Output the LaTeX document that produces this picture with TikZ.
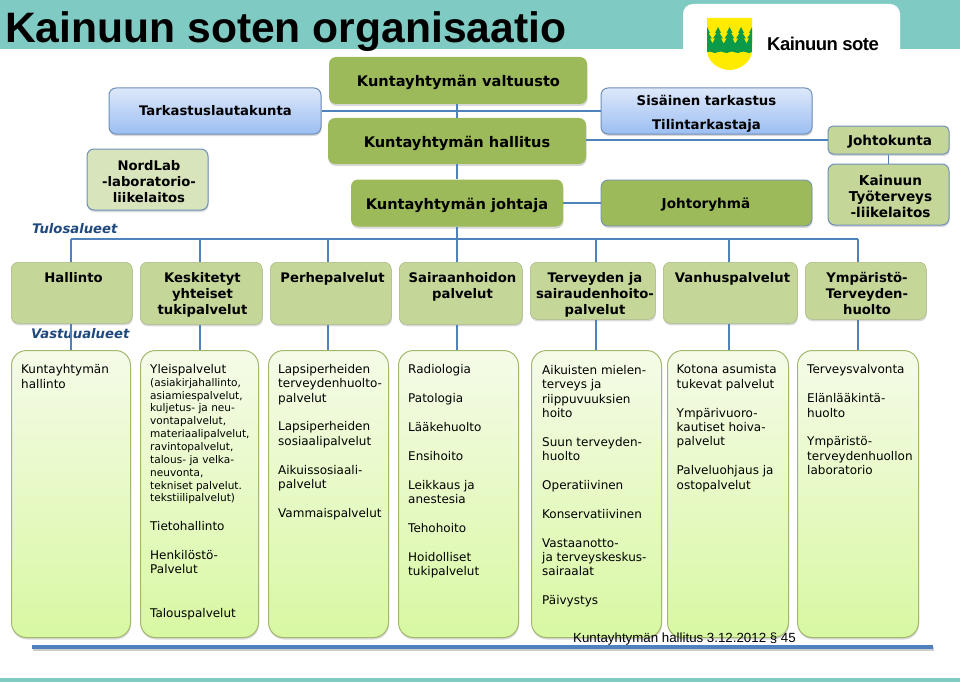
\documentclass[tikz,border=0pt]{standalone}
\usepackage{fontspec}
\setmainfont{DejaVu Sans}
\newfontfamily\arialfont{Liberation Sans}
\newfontfamily\sotefont[LetterSpace=-3.0]{Liberation Sans}
\usetikzlibrary{shadows}
\definecolor{tealbar}{HTML}{7FCBC4}
\definecolor{linkblue}{HTML}{4F81BD}
\definecolor{darkgreen}{HTML}{9DBA5A}
\definecolor{midgreen}{HTML}{C5D699}
\definecolor{palegreen}{HTML}{D8E4BC}
\definecolor{edgegreen}{HTML}{A3B86C}
\definecolor{edgeblue}{HTML}{6F8FB8}
\definecolor{labelblue}{HTML}{1F497D}
\definecolor{bluetop}{HTML}{DDE8FA}
\definecolor{bluebottom}{HTML}{9CBEF2}
\definecolor{coltop}{HTML}{F5FBE8}
\definecolor{colbottom}{HTML}{D8F8A2}
\definecolor{shieldgreen}{HTML}{0A9A4A}
\definecolor{shieldyellow}{HTML}{FFEB00}
\tikzset{softshadow/.style={drop shadow={shadow xshift=.5pt,shadow yshift=-2pt,opacity=.3}},
  box/.style={rounded corners=7pt,inner sep=0pt,softshadow},
  dark/.style={box,fill=darkgreen},
  bluebox/.style={box,draw=edgeblue,line width=1pt,top color=bluetop,bottom color=bluebottom},
  palebox/.style={box,draw=edgeblue,line width=1pt,fill=palegreen},
  midbox/.style={palebox,fill=midgreen},
  mid/.style={box,anchor=north west,draw=midgreen!85!black,line width=.5pt,fill=midgreen},
  col/.style={rounded corners=15pt,anchor=north west,minimum height=287pt,draw=edgegreen,line width=1pt,top color=coltop,bottom color=colbottom,softshadow},
  head/.style={align=center,inner sep=0pt,font=\fontsize{13.2}{16}\selectfont\bfseries},
  headbig/.style={head,font=\fontsize{14.6}{16}\selectfont\bfseries},
  txt/.style={anchor=north west,align=left,inner sep=0pt,font=\fontsize{12}{14.4}\selectfont},
  small/.style={txt,font=\fontsize{10.55}{12.85}\selectfont},
  area/.style={anchor=west,inner sep=0pt,text=labelblue,font=\fontsize{13.2}{15}\selectfont\bfseries\itshape},
  link/.style={draw=linkblue,line width=1.2pt}}
\begin{document}
\begin{tikzpicture}[x=1pt,y=-1pt]
  \useasboundingbox (0,0) rectangle (960,682);
  \fill[tealbar] (0,0) rectangle (960,49);
  \fill[tealbar] (0,678) rectangle (960,682);
  \fill[white,rounded corners=10pt] (683,75) -- (683,4) -- (900,4) -- (900,75) -- cycle;
  % shield
  \begin{scope}
    \clip (707,18) -- (752,18) -- (752,50) .. controls (752,62) and (740,70) .. (729.5,70) .. controls (719,70) and (707,62) .. (707,50) -- cycle;
    \fill[shieldyellow] (700,15) rectangle (760,75);
    \foreach \x in {707,718,729.5,741,752}
      \fill[shieldgreen] (\x,27) -- (\x+3,33) -- (\x+1.5,33) -- (\x+5,38.5) -- (\x+3,38.5) -- (\x+5.8,44) -- (\x-5.8,44) -- (\x-3,38.5) -- (\x-5,38.5) -- (\x-1.5,33) -- (\x-3,33) -- cycle;
    \fill[shieldgreen] (707,43) -- (752,43) -- (752,52) .. controls (748,55) and (745,50) .. (741,52) .. controls (737,55) and (733,50) .. (729.5,52) .. controls (726,55) and (722,50) .. (718,52) .. controls (714,55) and (711,50) .. (707,52) -- cycle;
  \end{scope}
  \node[anchor=west,inner sep=0pt,font=\sotefont\fontsize{18.5}{20}\selectfont\bfseries] (sote) at (767,44) {Kainuun sote};
  \node[anchor=west,inner sep=0pt,font=\arialfont\fontsize{42.6}{46}\selectfont\bfseries] (title) at (5,32) {Kainuun soten organisaatio};

  % upper part
  \node[bluebox,minimum width=212pt,minimum height=46pt] (tarkastus) at (215,111) {};
  \node[palebox,minimum width=121pt,minimum height=61pt] (nordlab) at (147.5,179.5) {};
  \node[dark,minimum width=258pt,minimum height=47pt] (valtuusto) at (458,80.5) {};
  \node[dark,minimum width=258pt,minimum height=46pt] (hallitus) at (457,141) {};
  \node[dark,minimum width=212pt,minimum height=47pt] (johtaja) at (457,203) {};
  \node[bluebox,minimum width=211pt,minimum height=46pt] (sisainen) at (706.5,111) {};
  \node[dark,draw=edgeblue,line width=.8pt,minimum width=211pt,minimum height=46pt] (johtoryhma) at (706.5,203) {};
  \node[midbox,minimum width=121pt,minimum height=28pt,rounded corners=5pt] (johtokunta) at (888.5,140) {};
  \node[midbox,minimum width=121pt,minimum height=61pt] (tyoterveys) at (888.5,194.5) {};
  \node[head] (tarkastust) at (215.5,111) {Tarkastuslautakunta};
  \node[head] (nordlabt) at (149,181.5) {NordLab\\-laboratorio-\\liikelaitos};
  \node[headbig] (valtuustot) at (458.5,82.5) {Kuntayhtymän valtuusto};
  \node[headbig] (hallitust) at (457,143) {Kuntayhtymän hallitus};
  \node[headbig] (johtajat) at (457,205) {Kuntayhtymän johtaja};
  \node[head,font=\fontsize{13.3}{24}\selectfont\bfseries] (sisainent) at (706.5,114) {Sisäinen tarkastus\\Tilintarkastaja};
  \node[head,font=\fontsize{13.6}{16}\selectfont\bfseries] (johtoryhmat) at (706,205) {Johtoryhmä};
  \node[head,font=\fontsize{13.6}{16}\selectfont\bfseries] (johtokuntat) at (890,142) {Johtokunta};
  \node[head,font=\fontsize{13.6}{16}\selectfont\bfseries] (tyoterveyst) at (890.5,196.5) {Kainuun\\Työterveys\\-liikelaitos};
  \node[area] (tulos) at (32,228.5) {Tulosalueet};
  \node[area] (vastuu) at (31,333.5) {Vastuualueet};

  % second row
  \node[mid,minimum width=121pt,minimum height=61pt] (hallinto) at (11,262) {};
  \node[mid,minimum width=122pt,minimum height=62pt] (keskitetyt) at (140,262) {};
  \node[mid,minimum width=121pt,minimum height=62pt] (perhe) at (270,262) {};
  \node[mid,minimum width=123pt,minimum height=62pt] (sairaan) at (399,262) {};
  \node[mid,minimum width=125pt,minimum height=57pt] (terveyden) at (530,262) {};
  \node[mid,minimum width=134pt,minimum height=61pt] (vanhus) at (663,262) {};
  \node[mid,minimum width=121pt,minimum height=57pt] (ympar) at (805,262) {};
  \node[head,anchor=north] (hallintot) at (73.5,272) {Hallinto};
  \node[head,anchor=north] (keskitetytt) at (202.5,272) {Keskitetyt\\yhteiset\\tukipalvelut};
  \node[head,anchor=north] (perhet) at (332.5,272) {Perhepalvelut};
  \node[head,anchor=north] (sairaant) at (462.5,272) {Sairaanhoidon\\palvelut};
  \node[head,anchor=north] (tervt) at (595,272) {Terveyden ja\\sairaudenhoito-\\palvelut};
  \node[head,anchor=north] (vanhust) at (732.5,272) {Vanhuspalvelut};
  \node[head,anchor=north] (ympart) at (867,272) {Ympäristö-\\Terveyden-\\huolto};

  % third row
  \node[col,minimum width=119pt] (c1) at (11,350) {};
  \node[col,minimum width=118pt] (c2) at (140,350) {};
  \node[col,minimum width=120pt] (c3) at (268,350) {};
  \node[col,minimum width=120pt] (c4) at (398,350) {};
  \node[col,minimum width=130pt] (c5) at (531,350) {};
  \node[col,minimum width=121pt] (c6) at (667,350) {};
  \node[col,minimum width=121pt] (c7) at (797,350) {};
  \node[txt] (t1) at (21,364.5) {Kuntayhtymän\\hallinto};
  \node[txt] (t2a) at (150,364.5) {Yleispalvelut};
  \node[small] (t2b) at (150,378) {(asiakirjahallinto,\\asiamiespalvelut,\\kuljetus- ja neu-\\vontapalvelut,\\materiaalipalvelut,\\ravintopalvelut,\\talous- ja velka-\\neuvonta,\\tekniset palvelut.\\tekstiilipalvelut)};
  \node[txt] (t2c) at (150,521) {Tietohallinto\\[14.4pt]Henkilöstö-\\Palvelut};
  \node[txt] (t2d) at (150,608) {Talouspalvelut};
  \node[txt] (t3) at (278,364) {Lapsiperheiden\\terveydenhuolto-\\palvelut\\[14.4pt]Lapsiperheiden\\sosiaalipalvelut\\[14.4pt]Aikuissosiaali-\\palvelut\\[14.4pt]Vammaispalvelut};
  \node[txt] (t4) at (408,364.5) {Radiologia\\[14.4pt]Patologia\\[14.4pt]Lääkehuolto\\[14.4pt]Ensihoito\\[14.4pt]Leikkaus ja\\anestesia\\[14.4pt]Tehohoito\\[14.4pt]Hoidolliset\\tukipalvelut};
  \node[txt] (t5) at (542,365) {Aikuisten mielen-\\terveys ja\\riippuvuuksien\\hoito\\[14.4pt]Suun terveyden-\\huolto\\[14.4pt]Operatiivinen\\[14.4pt]Konservatiivinen\\[14.4pt]Vastaanotto-\\ja terveyskeskus-\\sairaalat\\[14.4pt]Päivystys};
  \node[txt] (t6) at (676.5,364.5) {Kotona asumista\\tukevat palvelut\\[14.4pt]Ympärivuoro-\\kautiset hoiva-\\palvelut\\[14.4pt]Palveluohjaus ja\\ostopalvelut};
  \node[txt] (t7) at (807,364.5) {Terveysvalvonta\\[14.4pt]Elänlääkintä-\\huolto\\[14.4pt]Ympäristö-\\terveydenhuollon\\laboratorio};

  % connectors
  \coordinate (b1) at (71,239);
  \coordinate (b2) at (200,239);
  \coordinate (b3) at (328,239);
  \coordinate (b4) at (457,239);
  \coordinate (b5) at (596,239);
  \coordinate (b6) at (729,239);
  \coordinate (b7) at (858,239);
  \draw[link] (tarkastus.east) edge (sisainen.west)
  (johtokunta.west -| hallitus.east) edge (johtokunta.west)
  (johtaja.east) edge (johtoryhma.west)
  (johtokunta.south) edge (tyoterveys.north)
  (b4 |- valtuusto.south) edge (b4 |- hallitus.north)
  (b4 |- hallitus.south) edge (b4 |- johtaja.north)
  (b4 |- johtaja.south) edge (b4)
  (b1) edge (b7)
  (b1) edge (b1 |- hallinto.north)
  (b2) edge (b2 |- keskitetyt.north)
  (b3) edge (b3 |- perhe.north)
  (b4) edge (b4 |- sairaan.north)
  (b5) edge (b5 |- terveyden.north)
  (b6) edge (b6 |- vanhus.north)
  (b7) edge (b7 |- ympar.north)
  (b1 |- hallinto.south) edge (b1 |- c1.north)
  (b2 |- keskitetyt.south) edge (b2 |- c2.north)
  (b3 |- perhe.south) edge (b3 |- c3.north)
  (b4 |- sairaan.south) edge (b4 |- c4.north)
  (b5 |- terveyden.south) edge (b5 |- c5.north)
  (b6 |- vanhus.south) edge (b6 |- c6.north)
  (b7 |- ympar.south) edge (b7 |- c7.north);

  % bottom
  \fill[linkblue,drop shadow={shadow xshift=.5pt,shadow yshift=-1.5pt,opacity=.4}] (32,645) rectangle (933,649);
  \node[anchor=west,inner sep=0pt,font=\arialfont\fontsize{13.3}{16}\selectfont] (paatos) at (573,639) {Kuntayhtymän hallitus 3.12.2012 § 45};
\end{tikzpicture}
\end{document}
